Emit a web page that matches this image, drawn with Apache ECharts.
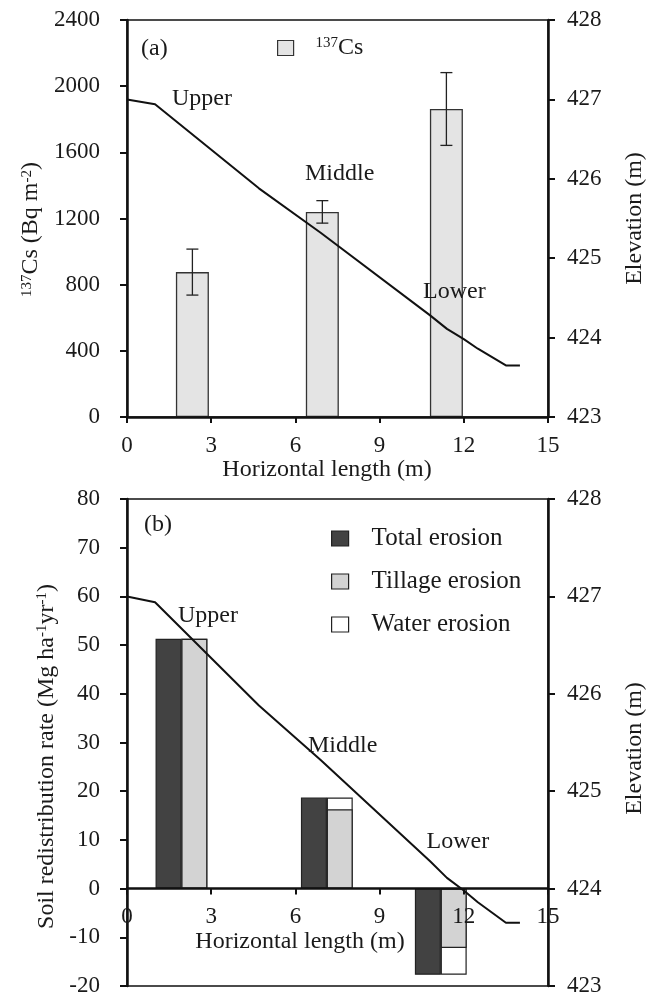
<!DOCTYPE html>
<html>
<head>
<meta charset="utf-8">
<script src="https://cdn.jsdelivr.net/npm/echarts@6/dist/echarts.min.js"></script>
<style>
html,body{margin:0;padding:0;background:#fff;}
#chart{width:651px;height:997px;}
</style>
</head>
<body>
<div id="chart"></div>
<script>
// ---- data ----
const lengthTicks = [0, 3, 6, 9, 12, 15];
const cs137Ticks = [0, 400, 800, 1200, 1600, 2000, 2400];
const rateTicks = [-20, -10, 0, 10, 20, 30, 40, 50, 60, 70, 80];
const elevTicks = [423, 424, 425, 426, 427, 428];

const cs137X = [2.33, 6.96, 11.38];
const cs137Val = [876, 1240, 1862];
const cs137Err = [139, 68, 220];

const elevX = [0, 1.0, 4.7, 6.9, 10.8, 11.4, 12.0, 12.5, 13.5, 14.0];
const elevY = [427.0, 426.94, 425.88, 425.32, 424.28, 424.11, 423.98, 423.86, 423.65, 423.65];

const totalX = [1.48, 6.66, 10.72];
const totalVal = [51.3, 18.7, -17.7];
const partX = [2.40, 7.58, 11.64];
const tillageVal = [51.3, 16.3, -12.2];
const waterVal = [0, 2.4, -5.5];

const slopeLabels = ['Upper', 'Middle', 'Lower'];

// ---- style ----
const FONT = '"Liberation Serif", "Times New Roman", serif';
const TXT = '#1a1a1a';
const AX = '#111';

function pairs(xs, ys) { return xs.map((x, i) => [x, ys[i]]); }
function rng(t) { return { min: t[0], max: t[t.length - 1], interval: t[1] - t[0] }; }
const plain = v => String(v);

const supStyle = { fontSize: 15, fontFamily: FONT, color: TXT, verticalAlign: 'top', lineHeight: 24 };

const GRID_B_TOP = 499, GRID_B_H = 487;
// lift the lower x axis from the grid bottom to the zero level of the rate axis
const zeroLift = -GRID_B_H * (0 - rateTicks[0]) / (rateTicks[rateTicks.length - 1] - rateTicks[0]);

function xAxisCfg(gridIndex, namePad, extra) {
  return Object.assign({
    type: 'value', gridIndex: gridIndex, position: 'bottom', z: 10, ...rng(lengthTicks),
    name: 'Horizontal length (m)', nameLocation: 'middle', nameGap: 41,
    nameTextStyle: { fontFamily: FONT, fontSize: 24, color: TXT, padding: [0, namePad, 0, 0] },
    axisLine: { show: true, onZero: false, lineStyle: { color: AX, width: 2.5 } },
    axisTick: { show: true, inside: false, length: 6, lineStyle: { color: AX, width: 2 } },
    axisLabel: { fontFamily: FONT, fontSize: 23, color: TXT, margin: 17, formatter: plain },
    splitLine: { show: false }
  }, extra || {});
}
function yAxisCfg(gridIndex, pos, ticks, name, gap, pad, margin) {
  return {
    type: 'value', gridIndex: gridIndex, position: pos, ...rng(ticks),
    name: name, nameLocation: 'middle', nameGap: gap, nameRotate: 90,
    nameTextStyle: { fontFamily: FONT, fontSize: 24, color: TXT, padding: [0, pad, 0, 0], rich: { sup: supStyle } },
    axisLine: { show: true, onZero: false, lineStyle: { color: AX, width: 2.5 } },
    axisTick: { show: true, inside: false, length: 7, lineStyle: { color: AX, width: 2 } },
    axisLabel: { fontFamily: FONT, fontSize: 23, color: TXT, margin: margin, formatter: plain },
    splitLine: { show: false }
  };
}

function annot(text, x, y) {
  return {
    type: 'text', x: x, y: y, z: 100,
    style: { text: text, font: '24px ' + FONT, fill: TXT, align: 'left', verticalAlign: 'middle', textAlign: 'left', textVerticalAlign: 'middle' }
  };
}

const chart = echarts.init(document.getElementById('chart'), null, { renderer: 'canvas' });

const gridBase = { left: 127, width: 421, show: true, borderColor: AX, borderWidth: 1.5, backgroundColor: 'transparent', containLabel: false, outerBoundsMode: 'none' };

const option = {
  animation: false,
  backgroundColor: '#fff',
  grid: [
    Object.assign({ top: 20, height: 397 }, gridBase),
    Object.assign({ top: GRID_B_TOP, height: GRID_B_H }, gridBase)
  ],
  xAxis: [
    xAxisCfg(0, 21),
    xAxisCfg(1, 75, { offset: zeroLift })
  ],
  yAxis: [
    yAxisCfg(0, 'left', cs137Ticks, '{sup|137}Cs (Bq m{sup|-2})', 82.5, 22, 27),
    yAxisCfg(0, 'right', elevTicks, 'Elevation (m)', 75, 0, 19),
    yAxisCfg(1, 'left', rateTicks, 'Soil redistribution rate (Mg ha{sup|-1}yr{sup|-1})', 67, 28, 27),
    yAxisCfg(1, 'right', elevTicks, 'Elevation (m)', 75, 12, 19)
  ],
  legend: [
    {
      data: ['137Cs'], left: 277, top: 36, padding: 0, itemWidth: 16, itemHeight: 15, icon: 'rect',
      formatter: function () { return '{sup|137}{n|Cs}'; },
      textStyle: { fontFamily: FONT, fontSize: 24, color: TXT, lineHeight: 24,
        rich: { sup: Object.assign({}, supStyle, { padding: [0, 0, 0, 17] }), n: { fontSize: 24, fontFamily: FONT, color: TXT } } },
      itemStyle: { borderWidth: 1.2, borderColor: '#333' }
    },
    {
      data: ['Total erosion', 'Tillage erosion', 'Water erosion'], orient: 'vertical',
      left: 331, top: 526, padding: 0, itemWidth: 17, itemHeight: 15, itemGap: 18, icon: 'rect',
      formatter: function (n) { return '{t|' + n + '}'; },
      textStyle: { fontFamily: FONT, fontSize: 25, color: TXT, lineHeight: 24,
        rich: { t: { fontFamily: FONT, fontSize: 25, color: TXT, padding: [0, 0, 0, 18] } } },
      itemStyle: { borderWidth: 1.2, borderColor: '#222' }
    }
  ],
  graphic: [
    annot('(a)', 141, 48.5),
    annot(slopeLabels[0], 172, 98.7),
    annot(slopeLabels[1], 305, 173.7),
    annot(slopeLabels[2], 423, 292),
    annot('(b)', 144, 525),
    annot(slopeLabels[0], 178, 615.3),
    annot(slopeLabels[1], 308, 746),
    annot(slopeLabels[2], 426.5, 842)
  ],
  series: [
    {
      name: '137Cs', type: 'bar', xAxisIndex: 0, yAxisIndex: 0,
      data: pairs(cs137X, cs137Val), barWidth: 33,
      itemStyle: { color: '#e4e4e4', borderColor: '#333', borderWidth: 1.3 }
    },
    {
      name: 'err', type: 'custom', xAxisIndex: 0, yAxisIndex: 0, z: 5,
      data: cs137X.map((x, i) => [x, cs137Val[i] - cs137Err[i], cs137Val[i] + cs137Err[i]]),
      encode: { x: 0, y: [1, 2] },
      renderItem: function (params, api) {
        const x = api.value(0);
        const lo = api.coord([x, api.value(1)]);
        const hi = api.coord([x, api.value(2)]);
        const w = 6;
        const st = { stroke: '#222', lineWidth: 1.3 };
        return {
          type: 'group', children: [
            { type: 'line', shape: { x1: hi[0], y1: hi[1], x2: lo[0], y2: lo[1] }, style: st },
            { type: 'line', shape: { x1: hi[0] - w, y1: hi[1], x2: hi[0] + w, y2: hi[1] }, style: st },
            { type: 'line', shape: { x1: lo[0] - w, y1: lo[1], x2: lo[0] + w, y2: lo[1] }, style: st }
          ]
        };
      }
    },
    {
      name: 'Elevation a', type: 'line', xAxisIndex: 0, yAxisIndex: 1, z: 6,
      data: pairs(elevX, elevY), symbol: 'none',
      lineStyle: { color: '#111', width: 2 }
    },
    {
      name: 'Total erosion', type: 'bar', xAxisIndex: 1, yAxisIndex: 2,
      data: pairs(totalX, totalVal), barWidth: 26, barGap: '-100%',
      itemStyle: { color: '#424242', borderColor: '#222', borderWidth: 1.2 }
    },
    {
      // water erosion sits on top of tillage erosion: drawn from 0 to tillage+water, tillage drawn over it
      name: 'Water erosion', type: 'bar', xAxisIndex: 1, yAxisIndex: 2,
      data: partX.map((x, i) => [x, tillageVal[i] + waterVal[i]]), barWidth: 26, barGap: '-100%',
      itemStyle: { color: '#ffffff', borderColor: '#222', borderWidth: 1.2 }
    },
    {
      name: 'Tillage erosion', type: 'bar', xAxisIndex: 1, yAxisIndex: 2,
      data: pairs(partX, tillageVal), barWidth: 26, barGap: '-100%',
      itemStyle: { color: '#d3d3d3', borderColor: '#222', borderWidth: 1.2 }
    },
    {
      name: 'Elevation b', type: 'line', xAxisIndex: 1, yAxisIndex: 3, z: 6,
      data: pairs(elevX, elevY), symbol: 'none',
      lineStyle: { color: '#111', width: 2 }
    }
  ]
};
chart.setOption(option);
</script>
</body>
</html>
